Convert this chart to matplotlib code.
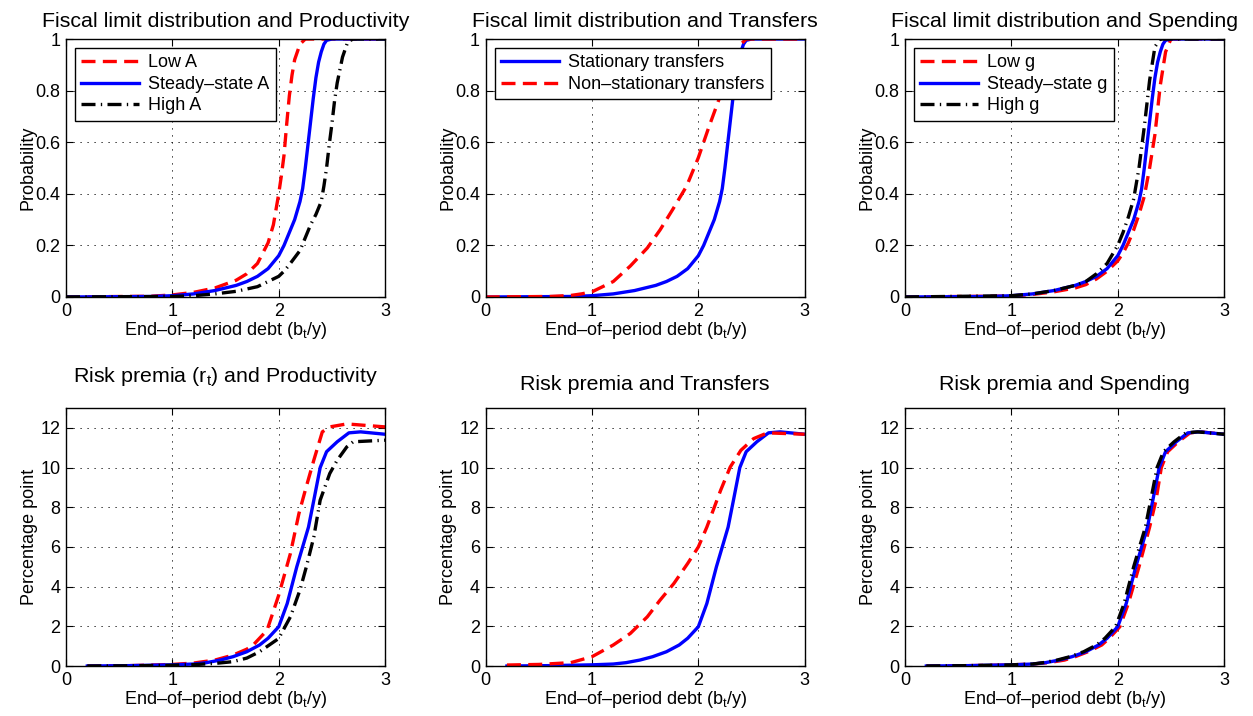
import matplotlib
matplotlib.use("Agg")
import matplotlib.pyplot as plt

plt.rcParams['font.family'] = ['Liberation Sans', 'DejaVu Sans']
plt.rcParams['mathtext.fontset'] = 'custom'
plt.rcParams['mathtext.rm'] = 'Liberation Sans'
plt.rcParams['mathtext.it'] = 'Liberation Sans'
plt.rcParams['font.size'] = 13

# ---- fiscal limit CDFs (top row) ----
ss_x = [0, 0.8, 1.0, 1.2, 1.4, 1.6, 1.7, 1.8, 1.9, 2.0, 2.05, 2.1, 2.15, 2.2, 2.225, 2.25, 2.275, 2.3,
        2.325, 2.35, 2.375, 2.4, 2.425, 2.45, 2.5, 3.0]
ss_y = [0, 0.002, 0.005, 0.012, 0.025, 0.045, 0.06, 0.08, 0.11, 0.16, 0.2, 0.25, 0.3, 0.37, 0.42, 0.5, 0.59, 0.68,
        0.77, 0.85, 0.91, 0.95, 0.98, 0.995, 1.0, 1.0]

lowA_x = [0, 0.8, 1.0, 1.2, 1.4, 1.6, 1.7, 1.8, 1.9, 1.95, 2.0, 2.025, 2.05, 2.075, 2.1, 2.125, 2.15, 2.2, 2.25, 3.0]
lowA_y = [0, 0.003, 0.008, 0.018, 0.035, 0.065, 0.09, 0.13, 0.21, 0.28, 0.4, 0.47, 0.55, 0.67, 0.78, 0.86, 0.92, 0.98, 1.0, 1.0]

highA_x = [0, 1.0, 1.2, 1.4, 1.6, 1.8, 1.9, 2.0, 2.05, 2.1, 2.2, 2.25, 2.3, 2.35, 2.4, 2.425, 2.45, 2.475, 2.5,
           2.525, 2.55, 2.6, 2.65, 2.7, 3.0]
highA_y = [0, 0.002, 0.005, 0.012, 0.022, 0.04, 0.06, 0.08, 0.1, 0.125, 0.18, 0.23, 0.28, 0.32, 0.37, 0.43, 0.5, 0.59, 0.67,
           0.76, 0.83, 0.93, 0.99, 1.0, 1.0]

nonst_x = [0, 0.6, 0.8, 0.9, 1.0, 1.1, 1.2, 1.36, 1.52, 1.64, 1.76, 1.89, 2.0, 2.1, 2.18, 2.25, 2.3, 2.35, 2.4, 2.45, 3.0]
nonst_y = [0, 0.002, 0.006, 0.012, 0.02, 0.04, 0.06, 0.12, 0.19, 0.26, 0.34, 0.43, 0.54, 0.66, 0.75, 0.83, 0.89, 0.94, 0.98, 1.0, 1.0]

lowg_x = [0, 1.0, 1.2, 1.4, 1.6, 1.7, 1.8, 1.9, 2.0, 2.05, 2.1, 2.15, 2.2, 2.25, 2.3, 2.35, 2.4, 2.45, 2.5, 3.0]
lowg_y = [0, 0.004, 0.01, 0.02, 0.035, 0.048, 0.07, 0.1, 0.14, 0.17, 0.21, 0.26, 0.32, 0.39, 0.5, 0.63, 0.82, 0.95, 1.0, 1.0]

highg_x = [0, 1.0, 1.2, 1.4, 1.6, 1.7, 1.8, 1.9, 2.0, 2.05, 2.1, 2.15, 2.2, 2.25, 2.3, 2.35, 2.4, 3.0]
highg_y = [0, 0.005, 0.012, 0.025, 0.045, 0.06, 0.09, 0.13, 0.2, 0.25, 0.31, 0.38, 0.5, 0.66, 0.84, 0.97, 1.0, 1.0]

# ---- risk premia (bottom row) ----
rp_ss_x = [0.2, 0.6, 1.0, 1.2, 1.32, 1.45, 1.57, 1.7, 1.82, 1.9, 2.0, 2.08, 2.17, 2.28, 2.33, 2.39, 2.45, 2.55, 2.66, 2.77, 3.0]
rp_ss_y = [0, 0.02, 0.06, 0.1, 0.17, 0.3, 0.47, 0.72, 1.06, 1.4, 1.98, 3.15, 5.0, 7.0, 8.35, 10.0, 10.8, 11.3, 11.75, 11.8, 11.68]

rp_lowA_x = [0.2, 0.6, 1.0, 1.2, 1.4, 1.57, 1.7, 1.76, 1.89, 2.0, 2.11, 2.19, 2.25, 2.33, 2.41, 2.48, 2.64, 3.0]
rp_lowA_y = [0, 0.02, 0.08, 0.15, 0.3, 0.55, 0.85, 1.06, 1.8, 3.57, 5.67, 7.68, 8.86, 10.37, 11.8, 12.05, 12.2, 12.05]

rp_highA_x = [0.2, 0.6, 1.0, 1.2, 1.4, 1.57, 1.7, 1.82, 2.0, 2.11, 2.2, 2.26, 2.33, 2.39, 2.48, 2.55, 2.64, 2.7, 3.0]
rp_highA_y = [0, 0.01, 0.04, 0.07, 0.13, 0.22, 0.4, 0.72, 1.39, 2.48, 3.83, 5.0, 6.5, 8.36, 9.7, 10.37, 11.04, 11.3, 11.38]

rp_nonst_x = [0.2, 0.5, 0.8, 1.0, 1.2, 1.36, 1.52, 1.64, 1.77, 1.9, 2.0, 2.08, 2.15, 2.21, 2.3, 2.4, 2.52, 2.65, 3.0]
rp_nonst_y = [0.05, 0.08, 0.17, 0.47, 1.06, 1.64, 2.48, 3.32, 4.16, 5.17, 6.0, 7.0, 8.0, 8.86, 10.03, 10.87, 11.46, 11.75, 11.68]

rp_lowg_x = [0.2, 0.6, 1.0, 1.2, 1.35, 1.5, 1.6, 1.72, 1.85, 1.92, 2.02, 2.1, 2.2, 2.3, 2.36, 2.41, 2.47, 2.57, 2.68, 2.78, 3.0]
rp_lowg_y = [0, 0.02, 0.06, 0.1, 0.17, 0.3, 0.47, 0.72, 1.06, 1.4, 1.98, 3.15, 5.0, 7.0, 8.35, 10.0, 10.8, 11.3, 11.75, 11.8, 11.68]

rp_highg_x = [0.2, 0.6, 1.0, 1.2, 1.3, 1.43, 1.55, 1.68, 1.8, 1.88, 1.98, 2.06, 2.15, 2.26, 2.31, 2.37, 2.43, 2.53, 2.64, 2.75, 3.0]
rp_highg_y = [0, 0.02, 0.06, 0.1, 0.17, 0.3, 0.47, 0.72, 1.06, 1.4, 1.98, 3.15, 5.0, 7.0, 8.35, 10.0, 10.8, 11.3, 11.75, 11.8, 11.68]

xticks = [0, 1, 2, 3]
xlabels = ['0', '1', '2', '3']
prob_ticks = [0, 0.2, 0.4, 0.6, 0.8, 1]
prob_labels = ['0', '0.2', '0.4', '0.6', '0.8', '1']
pp_ticks = [0, 2, 4, 6, 8, 10, 12]
pp_labels = ['0', '2', '4', '6', '8', '10', '12']

xlab = 'End\u2013of\u2013period debt (b$_t$/y)'

RED = dict(color='#ff0000', lw=2.4, ls=(0, (4.2, 2.2)))
BLUE = dict(color='#0000ff', lw=2.4, ls='-')
BLACK = dict(color='k', lw=2.4, ls=(0, (4.2, 1.6, 0.4, 1.6)))

fig = plt.figure(figsize=(12.53, 7.16), dpi=100)
lefts = [0.0527, 0.3876, 0.7223]
w, h = 0.2546, 0.3603
bot_top, bot_bot = 0.5852, 0.0698
TFS = 15.4


def style(ax, top):
    ax.set_xlim(0, 3)
    ax.set_xticks(xticks)
    ax.set_xticklabels(xlabels)
    if top:
        ax.set_ylim(0, 1)
        ax.set_yticks(prob_ticks)
        ax.set_yticklabels(prob_labels)
        ax.set_ylabel('Probability', labelpad=-1)
    else:
        ax.set_ylim(0, 13)
        ax.set_yticks(pp_ticks)
        ax.set_yticklabels(pp_labels)
        ax.set_ylabel('Percentage point', labelpad=2)
    ax.set_xlabel(xlab, labelpad=0)
    ax.grid(True, color='k', lw=0.7, ls=(0, (1.2, 6)))
    ax.tick_params(direction='in', top=True, right=True, length=5, width=0.8, pad=4)
    for s in ax.spines.values():
        s.set_linewidth(1.0)


axes = []
for i in range(3):
    axes.append(fig.add_axes([lefts[i], bot_top, w, h]))
for i in range(3):
    axes.append(fig.add_axes([lefts[i], bot_bot, w, h]))

# top-left
ax = axes[0]
ax.plot(lowA_x, lowA_y, label='Low A', **RED)
ax.plot(ss_x, ss_y, label='Steady\u2013state A', **BLUE)
ax.plot(highA_x, highA_y, label='High A', **BLACK)
ax.set_title('Fiscal limit distribution and Productivity', fontsize=TFS, pad=9)

# top-middle
ax = axes[1]
ax.plot(ss_x, ss_y, label='Stationary transfers', **BLUE)
ax.plot(nonst_x, nonst_y, label='Non\u2013stationary transfers', **RED)
ax.set_title('Fiscal limit distribution and Transfers', fontsize=TFS, pad=9)

# top-right
ax = axes[2]
ax.plot(lowg_x, lowg_y, label='Low g', **RED)
ax.plot(ss_x, ss_y, label='Steady\u2013state g', **BLUE)
ax.plot(highg_x, highg_y, label='High g', **BLACK)
ax.set_title('Fiscal limit distribution and Spending', fontsize=TFS, pad=9)

# bottom-left
ax = axes[3]
ax.plot(rp_lowA_x, rp_lowA_y, **RED)
ax.plot(rp_ss_x, rp_ss_y, **BLUE)
ax.plot(rp_highA_x, rp_highA_y, **BLACK)
ax.set_title('Risk premia (r$_t$) and Productivity', fontsize=TFS, pad=19)

# bottom-middle
ax = axes[4]
ax.plot(rp_ss_x, rp_ss_y, **BLUE)
ax.plot(rp_nonst_x, rp_nonst_y, **RED)
ax.set_title('Risk premia and Transfers', fontsize=TFS, pad=13)

# bottom-right
ax = axes[5]
ax.plot(rp_lowg_x, rp_lowg_y, **RED)
ax.plot(rp_ss_x, rp_ss_y, **BLUE)
ax.plot(rp_highg_x, rp_highg_y, **BLACK)
ax.set_title('Risk premia and Spending', fontsize=TFS, pad=13)

for i, ax in enumerate(axes):
    style(ax, i < 3)
    if i < 3:
        leg = ax.legend(loc='upper left', fancybox=False, edgecolor='k', framealpha=1,
                        borderaxespad=0.5, handlelength=3.2, borderpad=0.35,
                        labelspacing=0.25, handletextpad=0.5, fontsize=13)
        leg.get_frame().set_linewidth(1.0)

fig.savefig('out.png', dpi=100)
